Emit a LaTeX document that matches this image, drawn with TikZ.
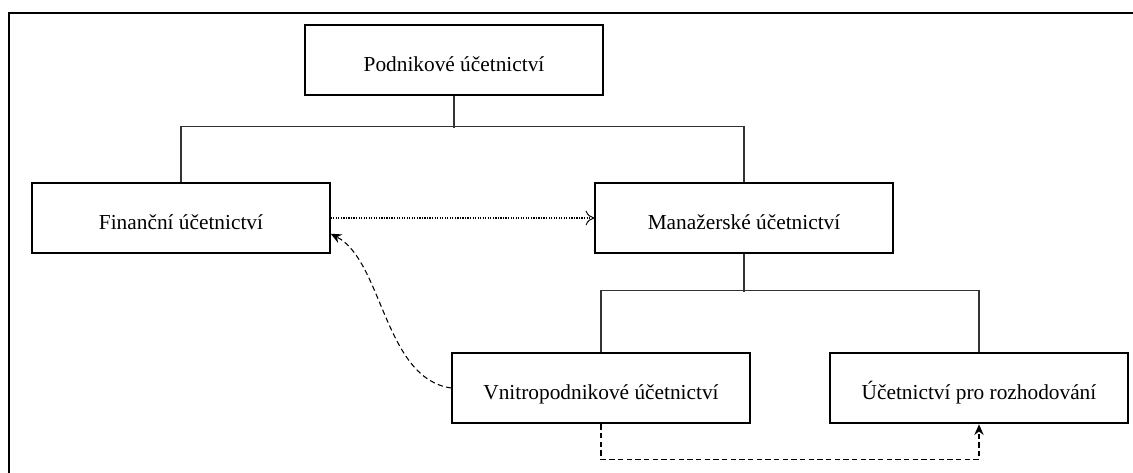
\documentclass[tikz,border=0pt]{standalone}
\usepackage{fontspec}
\setmainfont{Liberation Serif}
\usetikzlibrary{arrows,arrows.meta,positioning}

\begin{document}
\begin{tikzpicture}[x=0.75pt,y=-0.75pt,
boxnode/.style={rectangle, draw=black, line width=1.5pt, fill=white, minimum width=223pt, minimum height=53pt, text height=18pt, text depth=0pt, font=\fontsize{16}{19}\selectfont},
treeline/.style={draw=black!80, line width=0.8pt},
dashline/.style={dash pattern=on 4pt off 2.5pt, line width=0.8pt}
]
    \useasboundingbox (0,0) rectangle (1133,473);
    \draw[line width=1.5pt] (9,473) -- (9,13) -- (1133,13);

    \node[boxnode] (nodeP) at (454,60)  {Podnikové účetnictví};
    \node[boxnode] (nodeF) at (181,218) {Finanční účetnictví};
    \node[boxnode] (nodeM) at (744,218) {Manažerské účetnictví};
    \node[boxnode] (nodeV) at (601,388) {Vnitropodnikové účetnictví};
    \node[boxnode] (nodeR) at (979,388) {Účetnictví pro rozhodování};

    \draw[treeline] (nodeP.south) -- ++(0,32);
    \draw[treeline] (nodeF.north) -- ++(0,-55) -| (nodeM.north);
    \draw[treeline] (nodeM.south) -- ++(0,38);
    \draw[treeline] (nodeV.north) -- ++(0,-61) -| (nodeR.north);

    \draw[densely dotted, line width=0.9pt, -{To[length=6.5pt,width=11pt,line width=0.7pt]}] (nodeF.east) -- (nodeM.west);
    \draw[dashline, -{Stealth[length=8pt,width=7pt]}] (nodeV.west) .. controls +(-67,-9) and +(52,27) .. (nodeF.-6.5);
    \draw[dashline, -{Stealth[length=8pt,width=7pt]}] (nodeV.south) -- ++(0,35) -| (nodeR.south);
\end{tikzpicture}
\end{document}
